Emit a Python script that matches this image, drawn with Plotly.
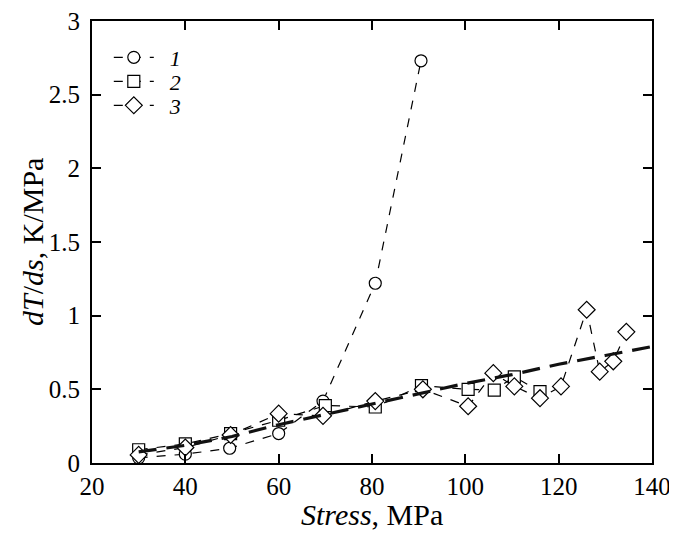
import plotly.graph_objects as go

# Series 1 (circles)
x1 = [30, 40, 49.5, 60, 69.5, 80.7, 90.5]
y1 = [0.035, 0.06, 0.10, 0.20, 0.42, 1.22, 2.73]
# Series 2 (squares)
x2 = [30, 40, 49.7, 60, 70, 80.7, 90.6, 100.6, 106.2, 110.5, 116]
y2 = [0.09, 0.13, 0.20, 0.29, 0.39, 0.38, 0.525, 0.50, 0.495, 0.585, 0.485]
# Series 3 (diamonds)
x3 = [30, 40, 49.7, 60, 69.5, 80.7, 90.9, 100.6, 106, 110.5, 116, 120.5, 126, 128.8, 131.7, 134.5]
y3 = [0.055, 0.105, 0.19, 0.335, 0.32, 0.42, 0.50, 0.385, 0.61, 0.52, 0.44, 0.52, 1.04, 0.62, 0.69, 0.89]
# Trend (thick dashed)
xt = [30, 40, 50, 60, 70, 80, 90, 100, 110, 120, 130, 140]
yt = [0.075, 0.12, 0.18, 0.26, 0.33, 0.40, 0.47, 0.54, 0.60, 0.67, 0.73, 0.79]

labels = ["1", "2", "3"]
xticks = [20, 40, 60, 80, 100, 120, 140]
yticks = [0, 0.5, 1, 1.5, 2, 2.5, 3]
yticktext = ["0", "0.5", "1", "1.5", "2", "2.5", "3"]

FONT = "Liberation Serif"
FS = 25      # tick labels
FT = 30      # axis titles

fig = go.Figure()
line_style = dict(color="black", width=1.2, dash="dash")
mk = dict(color="white", line=dict(color="black", width=1.2))

series = [(x1, y1, "circle", 12, "legend"),
          (x2, y2, "square", 12, "legend2"),
          (x3, y3, "diamond", 13, "legend3")]
for (xs, ys, sym, sz, lg), lab in zip(series, labels):
    fig.add_trace(go.Scatter(x=xs, y=ys, mode="lines+markers",
                             name="&nbsp;&nbsp;<i>" + lab + "</i>",
                             line=line_style, marker=dict(symbol=sym, size=sz, **mk),
                             legend=lg))
fig.add_trace(go.Scatter(x=xt, y=yt, mode="lines", showlegend=False,
                         line=dict(color="#111", width=3.2, dash="18px,10px")))

axis_common = dict(showline=True, linecolor="black", linewidth=2, mirror="ticks",
                   ticks="inside", ticklen=9, tickwidth=1.5, tickcolor="black",
                   showgrid=False, zeroline=False, automargin=False,
                   ticklabeloverflow="allow",
                   tickfont=dict(family=FONT, size=FS, color="black"))

# page body has an 8px margin, so the figure is drawn 8px in from the window corner
W, H = 669, 525
PT, PB = 13, 455  # plot top / bottom in figure pixels

def leg(ypix):
    return dict(x=0.03, y=(PB - (ypix + 2.5 - 8)) / (PB - PT), xanchor="left", yanchor="middle",
                bgcolor="rgba(0,0,0,0)", font=dict(family=FONT, size=22),
                itemwidth=40, borderwidth=0)

fig.update_layout(
    width=W, height=H,
    margin=dict(l=84, r=25, t=PT, b=H - PB, autoexpand=False),
    paper_bgcolor="white", plot_bgcolor="white",
    font=dict(family=FONT, color="black"),
    xaxis=dict(range=[20, 140], tickvals=xticks, ticklabelstandoff=0, **axis_common),
    yaxis=dict(range=[0, 3], tickvals=yticks, ticktext=yticktext, ticklabelstandoff=5,
               **axis_common),
    legend=leg(55), legend2=leg(79), legend3=leg(103),
    showlegend=True,
    annotations=[
        dict(text="<i>dT</i>/<i>ds</i>, K/MPa", xref="paper", yref="paper",
             x=0, y=0.5, xanchor="center", yanchor="middle", xshift=-60,
             textangle=-90, showarrow=False, font=dict(family=FONT, size=FT)),
        dict(text="<i>Stress</i>, MPa", xref="paper", yref="paper",
             x=0.5, y=0, xanchor="center", yanchor="middle", yshift=-51,
             showarrow=False, font=dict(family=FONT, size=FT)),
    ],
)

fig.write_html("out.html")
